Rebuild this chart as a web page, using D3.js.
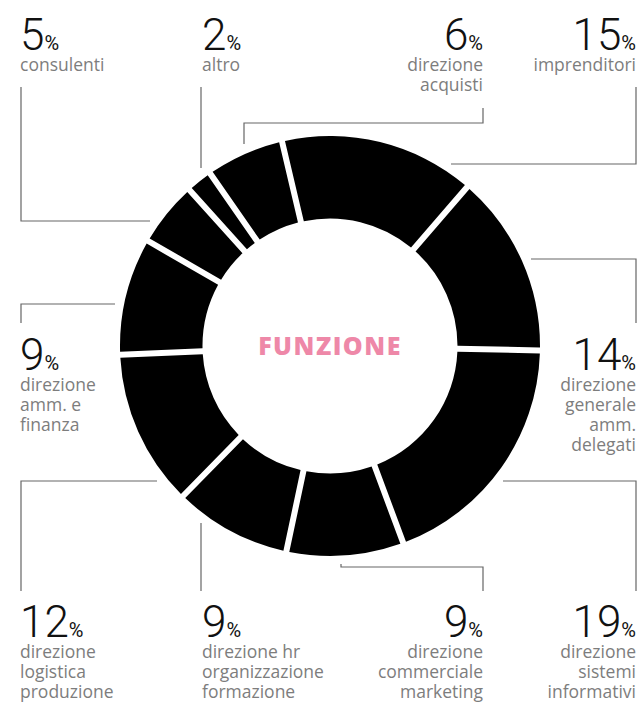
<!DOCTYPE html>
<html>
<head>
<meta charset="utf-8">
<script src="https://cdn.jsdelivr.net/npm/d3@7"></script>
<style>
  body { margin: 0; background: #fff; }
  .label { font-family: "Open Sans", sans-serif; }
  .leader { fill: none; stroke: #666; stroke-width: 1.2; }
</style>
</head>
<body>
<div id="chart"></div>
<script>
// Chart data (clockwise from the top)
const categories = ["imprenditori", "direzione generale amm. delegati", "direzione sistemi informativi",
    "direzione commerciale marketing", "direzione hr organizzazione formazione",
    "direzione logistica produzione", "direzione amm. e finanza", "consulenti", "altro", "direzione acquisti"];
const values = [15, 14, 19, 9, 9, 12, 9, 5, 2, 6];
const labelLines = [
    ["imprenditori"],
    ["direzione", "generale", "amm.", "delegati"],
    ["direzione", "sistemi", "informativi"],
    ["direzione", "commerciale", "marketing"],
    ["direzione hr", "organizzazione", "formazione"],
    ["direzione", "logistica", "produzione"],
    ["direzione", "amm. e", "finanza"],
    ["consulenti"],
    ["altro"],
    ["direzione", "acquisti"]
];
const title = "FUNZIONE";

// Layout: label anchor (x, number baseline, alignment) and leader line points
const layout = [
    { x: 636, y: 50, anchor: "end", line: [[636, 87], [636, 164], [451, 164]] },
    { x: 636, y: 370, anchor: "end", line: [[531, 259], [636, 259], [636, 323]] },
    { x: 636, y: 637, anchor: "end", line: [[503, 481], [636, 481], [636, 591]] },
    { x: 483, y: 637, anchor: "end", line: [[341, 564], [341, 567], [483, 567], [483, 591]] },
    { x: 202, y: 637, anchor: "start", line: [[201, 523], [201, 591]] },
    { x: 20, y: 637, anchor: "start", line: [[157, 481], [21, 481], [21, 591]] },
    { x: 20, y: 370, anchor: "start", line: [[115, 304], [21, 304], [21, 323]] },
    { x: 20, y: 50, anchor: "start", line: [[21, 87], [21, 221], [150, 221]] },
    { x: 202, y: 50, anchor: "start", line: [[201, 87], [201, 168]] },
    { x: 483, y: 50, anchor: "end", line: [[483, 108], [483, 123], [244, 123], [244, 144]] }
];

const width = 641, height = 704;
const cx = 330, cy = 346;
const outerR = 210, innerR = 127.5;
const start = -13.2 * Math.PI / 180;

const svg = d3.select("#chart")
    .append("svg")
    .attr("width", width)
    .attr("height", height);

// Leader lines
svg.selectAll(".leader")
    .data(layout)
    .enter()
    .append("polyline")
    .attr("class", "leader")
    .attr("points", d => d.line.map(p => p.join(",")).join(" "));

// Donut
const pie = d3.pie()
    .sort(null)
    .startAngle(start)
    .endAngle(start + 2 * Math.PI);

const arc = d3.arc()
    .innerRadius(innerR)
    .outerRadius(outerR)
    .padAngle(0.03)
    .padRadius(200);

svg.append("g")
    .attr("transform", `translate(${cx},${cy})`)
    .selectAll("path")
    .data(pie(values))
    .enter()
    .append("path")
    .attr("d", arc)
    .attr("fill", "#000");

// Center title
svg.append("text")
    .attr("x", cx)
    .attr("y", cy + 9)
    .attr("text-anchor", "middle")
    .style("font-family", "'Open Sans', sans-serif")
    .style("font-weight", 800)
    .style("font-size", "25px")
    .style("letter-spacing", "1.5px")
    .style("fill", "#ee88a8")
    .text(title);

// Labels: number + % + description lines in one text block
svg.selectAll(".label")
    .data(values)
    .enter()
    .append("text")
    .attr("class", "label")
    .attr("text-anchor", (d, i) => layout[i].anchor)
    .each(function(d, i) {
        const t = d3.select(this);
        const L = layout[i];
        t.append("tspan")
            .attr("x", L.x).attr("y", L.y)
            .style("font-family", "Roboto, sans-serif")
            .style("font-size", "44px").style("font-weight", 300)
            .style("fill", "#111")
            .text(d);
        t.append("tspan")
            .style("font-family", "Roboto, sans-serif")
            .style("font-size", "20px").style("font-weight", 400)
            .style("fill", "#111")
            .text("%");
        labelLines[i].forEach((line, k) => {
            t.append("tspan")
                .attr("x", L.x)
                .attr("y", L.y + 21 + k * 20)
                .style("font-size", "17.5px")
                .style("fill", "#7d7d7d")
                .text(line);
        });
    });
</script>
</body>
</html>
